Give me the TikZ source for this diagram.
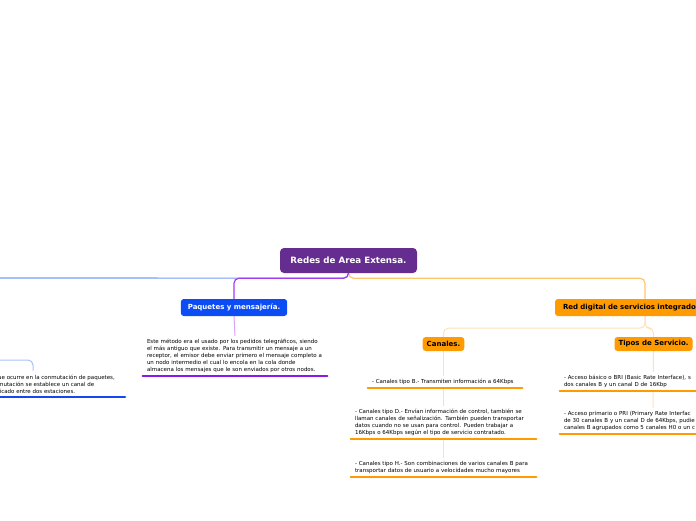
\documentclass[tikz,border=0pt]{standalone}
\usepackage{fontspec}
\setmainfont{DejaVu Sans}
\usepackage{tikz}
\usetikzlibrary{backgrounds,positioning}
\definecolor{raizmorado}       {HTML}{662D91}
\definecolor{azulfuerte}       {HTML}{0B4CF5}
\definecolor{naranja}          {HTML}{FF9A00}
\definecolor{lineaazul}        {HTML}{749CF7}
\definecolor{lineaazulclaro}   {HTML}{A8C0FA}
\definecolor{lineamorada}      {HTML}{A23BF2}
\definecolor{lineamoradaclaro} {HTML}{D9A2FF}
\definecolor{lineanaranja}     {HTML}{FFC56B}
\definecolor{lineanaranjaclaro}{HTML}{FFE1B5}
\definecolor{subrayamorado}    {HTML}{8E17E6}
\definecolor{subrayaazul}      {HTML}{1448F0}

\begin{document}
\begin{tikzpicture}[
  raiz/.style={fill=raizmorado,text=white,rounded corners=4pt,
               minimum width=137pt,minimum height=25pt,inner sep=0pt,
               font=\fontsize{8.7}{10}\selectfont\bfseries},
  rama/.style={rounded corners=3pt,minimum height=17pt,
               inner xsep=7pt,inner ysep=0pt,
               font=\fontsize{7}{8}\selectfont\bfseries},
  sub/.style={fill=naranja,rounded corners=3pt,minimum height=14pt,
              inner xsep=4pt,inner ysep=0pt,
              font=\fontsize{7}{8}\selectfont\bfseries},
  item/.style={fill=white,align=left,inner xsep=4pt,inner ysep=3pt,
               anchor=south,font=\fontsize{5.5}{7}\selectfont},
  con/.style={line width=1.2pt,rounded corners=5pt},
  subr/.style={line width=2.6pt,line cap=round},
  x=1pt,y=-1pt
]
\useasboundingbox (0,0) rectangle (696,520);
\clip (0,0) rectangle (696,520);

% Nodo central y ramas
\node[raiz] (raiz) at (348.5,260.5) {Redes de Area Extensa.};
\node[rama,fill=azulfuerte,text=white] (paq) at (234,307.5)
  {Paquetes y mensajería.};
\node[rama,fill=naranja,inner xsep=8pt,text width=164pt,align=left] (rdsi)
  at (645,307.5) {Red digital de servicios integrados};
\node[sub] (canales) at (443.5,344) {Canales.};
\node[sub] (tipos)   at (653.5,344) {Tipos de Servicio.};

% Textos
\node[item,text width=176pt] (paqtxt) at (235,376)
  {Este método era el usado por los pedidos telegráficos, siendo\\
   el más antiguo que existe. Para transmitir un mensaje a un\\
   receptor, el emisor debe enviar primero el mensaje completo a\\
   un nodo intermedio el cual lo encola en la cola donde\\
   almacena los mensajes que le son enviados por otros nodos.};
\node[item,anchor=south west] (izqtxt) at (-6,397)
  {ue ocurre en la conmutación de paquetes,\\
   mutación se establece un canal de\\
   licado entre dos estaciones.};
\node[item,text width=146pt] (cb) at (445,388)
  {- Canales tipo B.- Transmiten información a 64Kbps};
\node[item,text width=177pt] (cd) at (443.5,439)
  {- Canales tipo D.- Envían información de control, también se\\
   llaman canales de señalización. También pueden transportar\\
   datos cuando no se usan para control. Pueden trabajar a\\
   16Kbps o 64Kbps según el tipo de servicio contratado.};
\node[item,text width=177pt] (ch) at (443.5,477)
  {- Canales tipo H.- Son combinaciones de varios canales B para\\
   transportar datos de usuario a velocidades mucho mayores};
\node[item,text width=178pt] (tbri) at (653,391)
  {- Acceso básico o BRI (Basic Rate Interface), s\\
   dos canales B y un canal D de 16Kbp};
\node[item,text width=178pt] (tpri) at (653,434)
  {- Acceso primario o PRI (Primary Rate Interfac\\
   de 30 canales B y un canal D de 64Kbps, pudie\\
   canales B agrupados como 5 canales H0 o un c};

\coordinate (ramaizq)  at (-10,278);
\coordinate (izqpadre) at (-10,360);
\coordinate (izqfin)   at (33,370.6);
\coordinate (izqsubA)  at (-59,397);
\coordinate (izqsubB)  at (125,397);

% Conectores
\begin{scope}[on background layer]
\clip (0,0) rectangle (696,520);
\draw[con,lineaazul]    (raiz.south) -- ++(0,5) -- (ramaizq);
\draw[con,lineanaranja] (raiz.south) -- ++(0,5) -| (rdsi.north);
\draw[con,lineamorada]  (raiz.south) -- ++(0,5) -| (paq.north);
\draw[con,lineamoradaclaro,line width=1pt] (paq.south) -- (paqtxt.north);
\draw[con,lineaazulclaro,line width=1pt] (izqpadre) -| (izqfin);
\draw[con,lineanaranjaclaro,line width=1pt] (rdsi.south) -- ++(0,12) -| (canales.north);
\draw[con,lineanaranjaclaro,line width=1pt] (rdsi.south) -- ++(0,12) -| (tipos.north);
\draw[con,lineanaranjaclaro,line width=1pt] (canales.south) -- (ch.north);
\draw[con,lineanaranjaclaro,line width=1pt] (tipos.south) -- (tpri.north);
\end{scope}

% Subrayados
\draw[subr,subrayamorado] (paqtxt.south west) -- (paqtxt.south east);
\draw[subr,subrayaazul] (izqsubA) -- (izqsubB);
\draw[subr,naranja] (cb.south west) -- (cb.south east);
\draw[subr,naranja] (cd.south west) -- (cd.south east);
\draw[subr,naranja] (ch.south west) -- (ch.south east);
\draw[subr,naranja] (tbri.south west) -- (tbri.south east);
\draw[subr,naranja] (tpri.south west) -- (tpri.south east);
\end{tikzpicture}
\end{document}
